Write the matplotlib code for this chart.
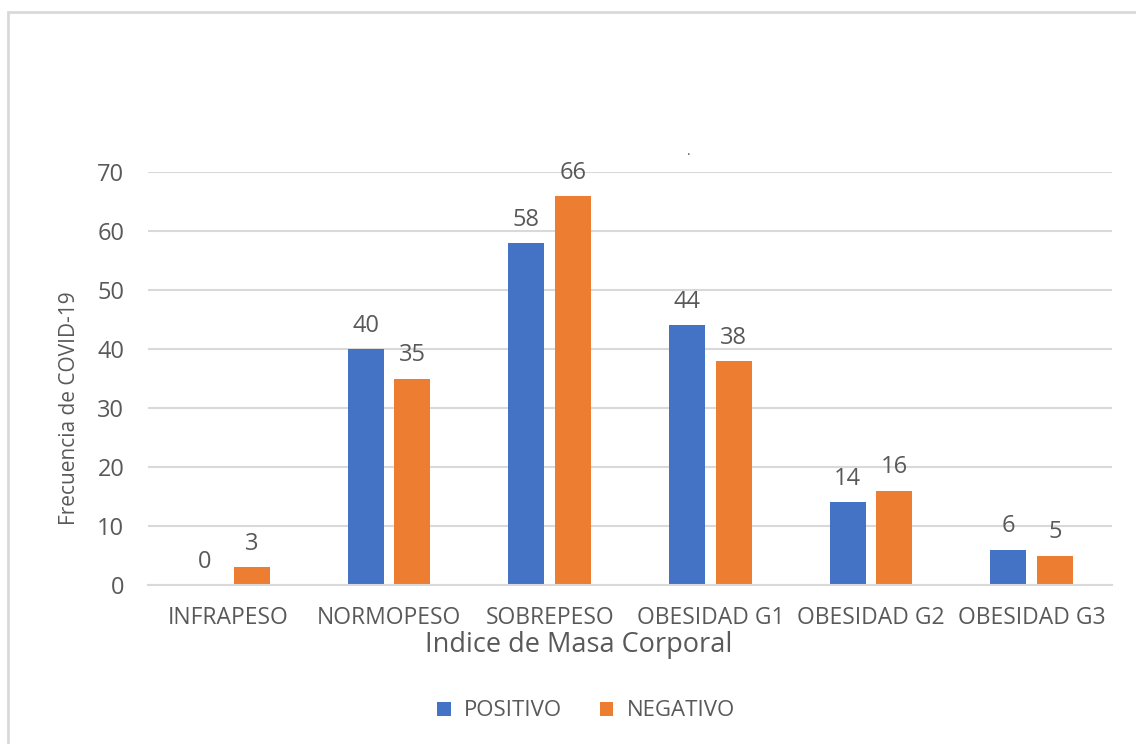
import numpy as np
import matplotlib.pyplot as plt
from matplotlib.patches import Rectangle

categorias = ['INFRAPESO', 'NORMOPESO', 'SOBREPESO', 'OBESIDAD G1', 'OBESIDAD G2', 'OBESIDAD G3']
positivo = [0, 40, 58, 44, 14, 6]
negativo = [3, 35, 66, 38, 16, 5]

azul = '#4472c4'
naranja = '#ed7d31'
gris = '#595959'

plt.rcParams['font.family'] = ['Open Sans', 'DejaVu Sans']

fig = plt.figure(figsize=(11.36, 7.44), dpi=100)
ax = fig.add_axes([0.1303, 0.2137, 0.8486, 0.5551])

# marco del grafico
fig.patches.append(Rectangle((8 / 1136, -0.05), 1.2, 1 - 12 / 744 + 0.05,
                             transform=fig.transFigure, fill=False,
                             edgecolor='#d9d9d9', lw=2))

x = np.arange(len(categorias))
ancho = 0.224
desp = 0.146
b1 = ax.bar(x - desp, positivo, ancho, color=azul, label='POSITIVO')
b2 = ax.bar(x + desp, negativo, ancho, color=naranja, label='NEGATIVO')

for barras, valores in [(b1, positivo), (b2, negativo)]:
    for b, v in zip(barras, valores):
        ax.annotate(str(v), (b.get_x() + b.get_width() / 2, v),
                    xytext=(0, 8), textcoords='offset points',
                    ha='center', va='bottom', fontsize=17, color=gris)

ax.set_xlim(-0.5, len(categorias) - 0.5)
ax.set_ylim(0, 70)
ax.set_yticks(range(0, 71, 10))
ax.set_xticks(x)
ax.set_xticklabels(categorias)
ax.yaxis.grid(True, color='#d9d9d9', lw=1.5)
ax.set_axisbelow(True)
for s in ['top', 'right', 'left']:
    ax.spines[s].set_visible(False)
ax.spines['bottom'].set_color('#d9d9d9')
ax.spines['bottom'].set_linewidth(1.5)
ax.tick_params(length=0, colors=gris)
ax.tick_params(axis='y', labelsize=17, pad=17)
ax.tick_params(axis='x', labelsize=16.5, pad=15)

ax.set_xlabel('Indice de Masa Corporal', fontsize=19.5, color=gris, labelpad=1)
ax.xaxis.set_label_coords(0.447, -0.112)
ax.xaxis.label.set_va('top')
ax.set_ylabel('Frecuencia de COVID-19', fontsize=15, color=gris)
ax.yaxis.set_label_coords(-0.071, 0.4286)

fig.text(689 / 1136, 1 - 155 / 744, '.', fontsize=10, color=gris, ha='center')

ax.legend(loc='center', bbox_to_anchor=(0.516, 1 - 711 / 744), bbox_transform=fig.transFigure,
          ncol=2, frameon=False, fontsize=16, labelcolor=gris,
          handlelength=0.6, handleheight=0.6, columnspacing=1.7, handletextpad=0.6)

fig.savefig('out.png', dpi=100)
